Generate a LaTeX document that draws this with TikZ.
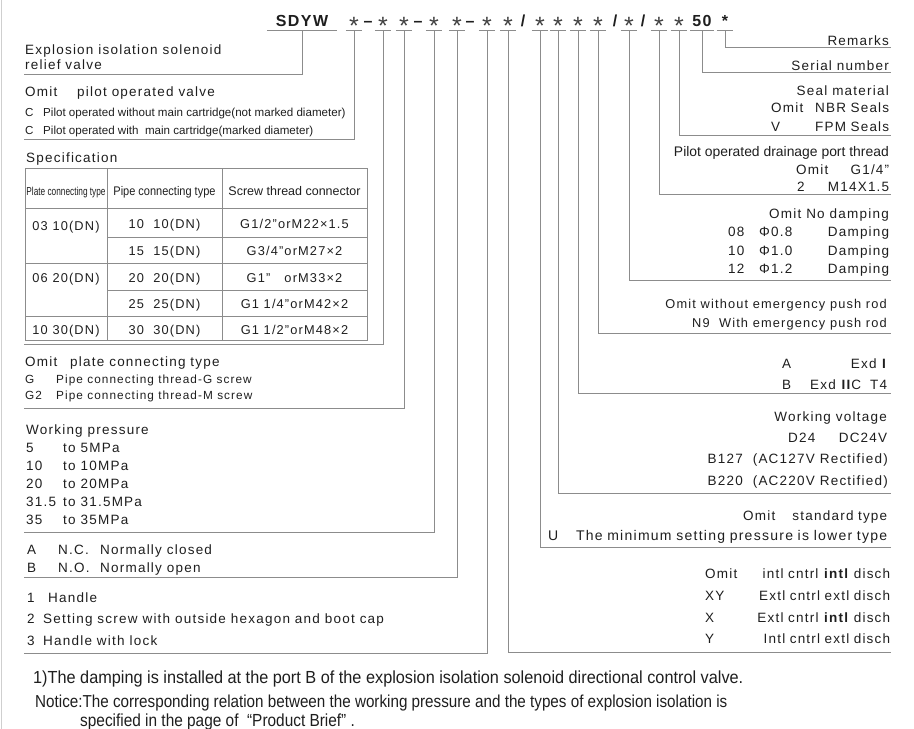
\documentclass[tikz,border=0pt]{standalone}
\usepackage{fontspec}
\setmainfont{Liberation Sans}
\newfontfamily\spacedfont{Liberation Sans}[LetterSpace=9]
\newfontfamily\narrowfont{Liberation Sans}[FakeStretch=0.72]
\newfontfamily\condfont{Liberation Sans}[FakeStretch=0.88]
\newfontfamily\notefont{Liberation Sans}[FakeStretch=0.93]
\definecolor{ink}{HTML}{1E1E1E}
\definecolor{leadgrey}{HTML}{8C8C8C}
\definecolor{framegrey}{HTML}{CFCFCF}

\begin{document}
\begin{tikzpicture}[
    x=1pt, y=-1pt,
    code/.style={
        font=\spacedfont\fontsize{16}{18}\selectfont\bfseries, text=ink,
        anchor=base, inner sep=0pt, text height=12pt, text depth=4pt,
    },
    star/.style={code, font=\fontsize{25}{25}\selectfont, text=ink!85, minimum width=16pt},
    lead/.style={draw=leadgrey, line width=0.9pt},
    grid/.style={draw=leadgrey, line width=0.8pt},
    txt/.style={font=\spacedfont\fontsize{13.5}{15}\selectfont, text=ink, inner sep=0pt, anchor=base west},
    rtxt/.style={txt, anchor=base east},
    spread/.style={txt, text width=#1pt},
    small/.style={font=\fontsize{11.6}{13}\selectfont},
    cell/.style={font=\spacedfont\fontsize{12.8}{14}\selectfont, text=ink, inner sep=0pt, anchor=base},
    note/.style={font=\condfont\fontsize{17.5}{19}\selectfont, text=ink, inner sep=0pt, anchor=base west},
]
\useasboundingbox (0,0) rectangle (914,729);

% ── page edge ──
\draw[framegrey, line width=1pt] (1,0) -- (1,729);

% ── Type code ──
\node[code, minimum width=70pt] (sdyw) at (302,26) {SDYW};
\node[star] (k1) at (354,26) {\raisebox{-8pt}{*}};
\node[code] (d1) at (368,26) {–};
\node[star] (k2) at (383,26) {\raisebox{-8pt}{*}};
\node[star] (k3) at (404,26) {\raisebox{-8pt}{*}};
\node[code] (d2) at (418,26) {–};
\node[star] (k4) at (434,26) {\raisebox{-8pt}{*}};
\node[star] (k5) at (457,26) {\raisebox{-8pt}{*}};
\node[code] (d3) at (470,26) {–};
\node[star] (k6) at (487,26) {\raisebox{-8pt}{*}};
\node[star] (k7) at (508,26) {\raisebox{-8pt}{*}};
\node[code] (s1) at (523,26) {/};
\node[star] (k8) at (540,26) {\raisebox{-8pt}{*}};
\node[star] (k9) at (558,26) {\raisebox{-8pt}{*}};
\node[star] (k10) at (578,26) {\raisebox{-8pt}{*}};
\node[star] (k11) at (598,26) {\raisebox{-8pt}{*}};
\node[code] (s2) at (615,26) {/};
\node[star] (k12) at (629,26) {\raisebox{-8pt}{*}};
\node[code] (s3) at (643,26) {/};
\node[star] (k13) at (659,26) {\raisebox{-8pt}{*}};
\node[star] (k14) at (679,26) {\raisebox{-8pt}{*}};
\node[code, minimum width=23pt] (sn) at (702,26) {50};
\node[code, minimum width=16pt] (rm) at (725,26) {*};

% ── Leader ends ──
\coordinate (e0) at (24,74);
\coordinate (e1) at (24,139);
\coordinate (e2) at (24,344);
\coordinate (e3) at (24,408);
\coordinate (e4) at (24,532);
\coordinate (e5) at (24,577);
\coordinate (e6) at (24,653);
\coordinate (e7) at (891,652);
\coordinate (e8) at (891,547);
\coordinate (e9) at (891,493);
\coordinate (e10) at (891,393);
\coordinate (e11) at (891,333);
\coordinate (e12) at (891,280);
\coordinate (e13) at (891,194);
\coordinate (e14) at (891,135);
\coordinate (e15) at (891,72);
\coordinate (e16) at (891,47);

% ── Leaders: left ──
\draw[lead] (sdyw.south west) -- (sdyw.south east) (sdyw.south) |- (e0);
\draw[lead] (k1.south west) -- (k1.south east) (k1.south) |- (e1);
\draw[lead] (k2.south west) -- (k2.south east) (k2.south) |- (e2);
\draw[lead] (k3.south west) -- (k3.south east) (k3.south) |- (e3);
\draw[lead] (k4.south west) -- (k4.south east) (k4.south) |- (e4);
\draw[lead] (k5.south west) -- (k5.south east) (k5.south) |- (e5);
\draw[lead] (k6.south west) -- (k6.south east) (k6.south) |- (e6);

% ── Leaders: right ──
\draw[lead] (k7.south west) -- (k7.south east) (k7.south) |- (e7);
\draw[lead] (k8.south west) -- (k8.south east) (k8.south) |- (e8);
\draw[lead] (k9.south west) -- (k9.south east) (k9.south) |- (e9);
\draw[lead] (k10.south west) -- (k10.south east) (k10.south) |- (e10);
\draw[lead] (k11.south west) -- (k11.south east) (k11.south) |- (e11);
\draw[lead] (k12.south west) -- (k12.south east) (k12.south) |- (e12);
\draw[lead] (k13.south west) -- (k13.south east) (k13.south) |- (e13);
\draw[lead] (k14.south west) -- (k14.south east) (k14.south) |- (e14);
\draw[lead] (sn.south west) -- (sn.south east) (sn.south) |- (e15);
\draw[lead] (rm.south west) -- (rm.south east) (rm.south) |- (e16);

% ── Left: name and pilot ──
\node[txt] (expl1) at (25,54) {Explosion isolation solenoid};
\node[txt] (expl2) at (25,69) {relief valve};
\node[txt] (pilot0) at (25,96) {\makebox[52pt][l]{Omit}pilot operated valve};
\node[txt, small] (pilot1) at (25,116) {\makebox[18pt][l]{C}Pilot operated without main cartridge(not marked diameter)};
\node[txt, small] (pilot2) at (25,134) {\makebox[18pt][l]{C}Pilot operated with\ \ main cartridge(marked diameter)};

% ── Specification table ──
\node[txt] (spec) at (26,162) {Specification};
\draw[grid] (25,168) rectangle (367,340);
\draw[grid] (107,168) -- (107,340) (222,168) -- (222,340);
\draw[grid] (25,208) -- (367,208) (25,263) -- (367,263) (25,316) -- (367,316);
\draw[grid] (107,237) -- (367,237) (107,290) -- (367,290);
\node[cell, font=\narrowfont\fontsize{11.5}{13}\selectfont] (hplate) at (66,195) {Plate connecting type};
\node[cell, font=\condfont\fontsize{12.5}{14}\selectfont] (hpipe) at (164.5,195) {Pipe connecting type};
\node[cell, font=\fontsize{12.5}{14}\selectfont] (hscrew) at (294.5,195) {Screw thread connector};
\node[cell] (p03) at (66,230) {03 10(DN)};
\node[cell] (p06) at (66,282) {06 20(DN)};
\node[cell] (p10) at (66,334) {10 30(DN)};
\node[cell] (g10) at (164.5,228) {10\ \ 10(DN)};
\node[cell] (g15) at (164.5,255) {15\ \ 15(DN)};
\node[cell] (g20) at (164.5,282) {20\ \ 20(DN)};
\node[cell] (g25) at (164.5,308) {25\ \ 25(DN)};
\node[cell] (g30) at (164.5,334) {30\ \ 30(DN)};
\node[cell] (t10) at (294.5,228) {G1/2”orM22×1.5};
\node[cell] (t15) at (294.5,255) {G3/4”orM27×2};
\node[cell] (t20) at (294.5,282) {G1”\ \ \ orM33×2};
\node[cell] (t25) at (294.5,308) {G1 1/4”orM42×2};
\node[cell] (t30) at (294.5,334) {G1 1/2”orM48×2};

% ── Left: connection, pressure, valve, adjustment ──
\node[txt] (plate0) at (25,366) {\makebox[45pt][l]{Omit}plate connecting type};
\node[txt, font=\spacedfont\fontsize{11.8}{13}\selectfont] (plate1) at (25,383) {\makebox[31pt][l]{G}Pipe connecting thread-G screw};
\node[txt, font=\spacedfont\fontsize{11.8}{13}\selectfont] (plate2) at (25,399) {\makebox[31pt][l]{G2}Pipe connecting thread-M screw};
\node[txt] (pres0) at (26,434) {Working pressure};
\node[txt] (pres1) at (26,452) {\makebox[37pt][l]{5}to 5MPa};
\node[txt] (pres2) at (26,470) {\makebox[37pt][l]{10}to 10MPa};
\node[txt] (pres3) at (26,488) {\makebox[37pt][l]{20}to 20MPa};
\node[txt] (pres4) at (26,506) {\makebox[37pt][l]{31.5}to 31.5MPa};
\node[txt] (pres5) at (26,524) {\makebox[37pt][l]{35}to 35MPa};
\node[txt] (nc) at (27,554) {\makebox[31pt][l]{A}\makebox[42pt][l]{N.C.}Normally closed};
\node[txt] (no) at (27,572) {\makebox[31pt][l]{B}\makebox[42pt][l]{N.O.}Normally open};
\node[txt] (hd1) at (27,602) {\makebox[21pt][l]{1}Handle};
\node[txt] (hd2) at (27,623) {\makebox[16pt][l]{2}Setting screw with outside hexagon and boot cap};
\node[txt] (hd3) at (27,645) {\makebox[16pt][l]{3}Handle with lock};

% ── Right: remarks to drainage ──
\node[rtxt] (remarks) at (889,45) {Remarks};
\node[rtxt] (serial) at (889,70) {Serial number};
\node[rtxt] (seal0) at (889,95) {Seal material};
\node[spread=118] (seal1) at (771,112) {Omit\hfill NBR Seals};
\node[spread=118] (seal2) at (771,131) {V\hfill FPM Seals};
\node[rtxt, font=\fontsize{13.9}{15}\selectfont] (drain0) at (889,156) {Pilot operated drainage port thread};
\node[spread=93] (drain1) at (796,174) {Omit\hfill G1/4”};
\node[spread=92] (drain2) at (797,191) {2\hfill M14X1.5};

% ── Right: damping, push rod, explosion class ──
\node[rtxt] (damp0) at (889,218) {Omit No damping};
\node[spread=161] (damp1) at (728,236) {\makebox[31pt][l]{08}Φ0.8\hfill Damping};
\node[spread=161] (damp2) at (728,255) {\makebox[31pt][l]{10}Φ1.0\hfill Damping};
\node[spread=161] (damp3) at (728,273) {\makebox[31pt][l]{12}Φ1.2\hfill Damping};
\node[rtxt, font=\spacedfont\fontsize{12.8}{14}\selectfont] (rod0) at (887,308) {Omit without emergency push rod};
\node[rtxt, font=\spacedfont\fontsize{12.8}{14}\selectfont] (rod1) at (887,327) {N9\ \ With emergency push rod};
\node[spread=105] (exd1) at (782,368) {A\hfill Exd \textbf{I}};
\node[spread=105] (exd2) at (782,389) {B\hfill Exd \textbf{II}C\ \ T4};

% ── Right: voltage, pressure type, control ──
\node[rtxt] (volt0) at (887,421) {Working voltage};
\node[spread=99] (volt1) at (788,442) {D24\hfill DC24V};
\node[rtxt] (volt2) at (888,463) {B127\ \ (AC127V Rectified)};
\node[rtxt] (volt3) at (888,485) {B220\ \ (AC220V Rectified)};
\node[spread=144] (std0) at (743,520) {Omit\hfill standard type};
\node[spread=339, font=\spacedfont\fontsize{14}{15}\selectfont] (std1) at (548,540) {U\hfill The minimum setting pressure is lower type};
\node[spread=185] (ctl0) at (705,578) {Omit\hfill intl cntrl \textbf{intl} disch};
\node[spread=185] (ctl1) at (705,600) {XY\hfill Extl cntrl extl disch};
\node[spread=185] (ctl2) at (705,622) {X\hfill Extl cntrl \textbf{intl} disch};
\node[spread=185] (ctl3) at (705,643) {Y\hfill Intl cntrl extl disch};

% ── Notes ──
\node[note, font=\notefont\fontsize{17.5}{19}\selectfont] (fn1) at (33,683) {1)The damping is installed at the port B of the explosion isolation solenoid directional control valve.};
\node[note, font=\condfont\fontsize{17.3}{19}\selectfont] (fn2) at (35,707) {Notice:The corresponding relation between the working pressure and the types of explosion isolation is};
\node[note] (fn3) at (80,726) {specified in the page of\ \ “Product Brief”\ .};

\end{tikzpicture}
\end{document}
